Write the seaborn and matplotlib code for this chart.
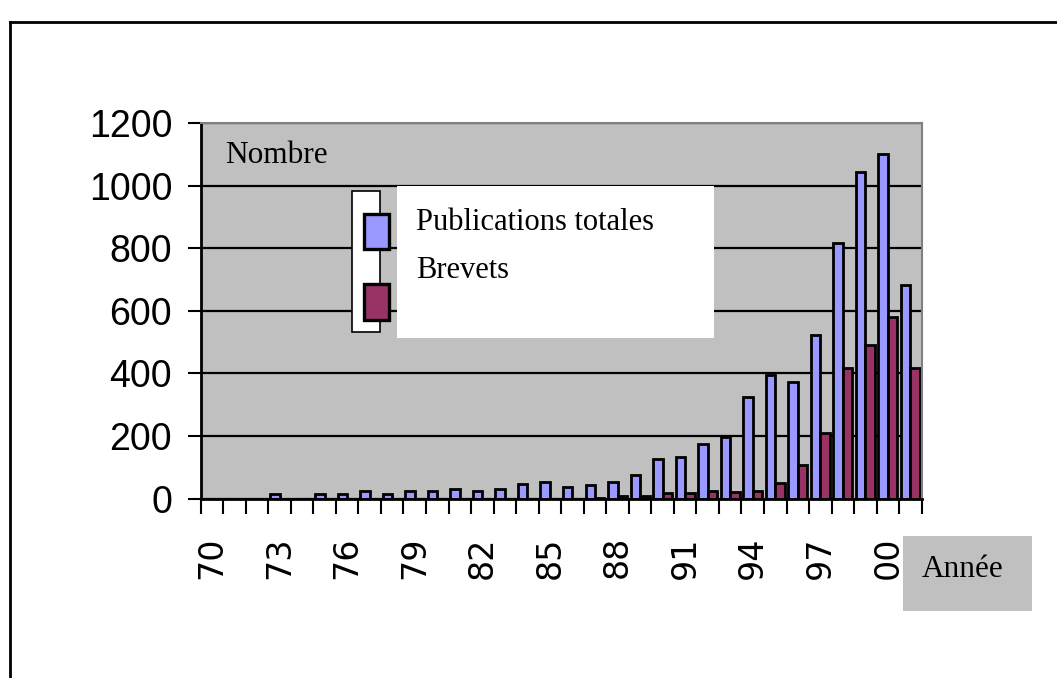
import matplotlib
matplotlib.use("Agg")
import matplotlib.pyplot as plt
from matplotlib.patches import Rectangle
from matplotlib.lines import Line2D
import numpy as np
import pandas as pd
import seaborn as sns

# ---- data -------------------------------------------------------------
years = list(range(1970, 2002))
publications = [0, 0, 0, 14, 0, 14, 14, 23, 14, 23, 23, 32, 23, 32, 48, 54,
                38, 45, 52, 76, 126, 134, 175, 196, 324, 395, 374, 523, 816,
                1042, 1100, 683]
brevets = [0, 0, 0, 0, 0, 0, 0, 0, 0, 0, 0, 0, 0, 0, 0, 0,
           0, 2, 10, 10, 17, 17, 26, 20, 26, 51, 108, 209, 417,
           491, 581, 417]
series_names = ["Publications totales", "Brevets"]
tick_years = [70, 73, 76, 79, 82, 85, 88, 91, 94, 97, 0]
y_ticks = [0, 200, 400, 600, 800, 1000, 1200]

colors = {"Publications totales": "#9999FF", "Brevets": "#993366"}
GRAY = "#C0C0C0"

df = pd.DataFrame({
    "annee": [str(y) for y in years] * 2,
    "serie": [series_names[0]] * len(years) + [series_names[1]] * len(years),
    "valeur": publications + brevets,
})

# ---- figure -----------------------------------------------------------
W, H = 1057, 678
fig = plt.figure(figsize=(W / 100, H / 100), dpi=100)
fig.patch.set_facecolor("white")


def fx(x):
    return x / W


def fy(y):
    return 1 - y / H


left, right, top, bottom = 200.7, 921.7, 123.0, 498.7
ax = fig.add_axes([fx(left), fy(bottom), fx(right) - fx(left), fy(top) - fy(bottom)])
ax.set_facecolor(GRAY)

sns.barplot(data=df, x="annee", y="valeur", hue="serie",
            order=[str(y) for y in years], hue_order=series_names,
            palette=colors, saturation=1, width=0.84,
            edgecolor="black", linewidth=2.0, legend=False, ax=ax,
            errorbar=None)

ax.set_xlim(-0.5, len(years) - 0.5)
ax.set_ylim(0, 1200)
ax.set_xlabel("")
ax.set_ylabel("")

# horizontal gridlines behind bars
ax.set_axisbelow(True)
ax.grid(axis="y", color="black", linewidth=1.6)
ax.grid(axis="x", visible=False)

# y axis
ax.set_yticks(y_ticks)
ax.set_yticklabels([str(v) for v in y_ticks], family="Liberation Sans",
                   fontsize=27)
ax.tick_params(axis="y", length=9.5, width=1.5, pad=11, colors="black")

# x axis: boundary ticks, labels every third year
label_pos = [years.index(1900 + y if y >= 70 else 2000 + y) for y in tick_years]
ax.set_xticks(label_pos)
ax.set_xticklabels([f"{y:02d}" for y in tick_years], rotation=90,
                   family="DejaVu Sans", fontsize=24)
ax.tick_params(axis="x", which="major", length=0, pad=27)
ax.set_xticks(np.arange(-0.5, len(years), 1.0), minor=True)
ax.tick_params(axis="x", which="minor", length=11, width=1.5, colors="black")

for s in ["left", "bottom"]:
    ax.spines[s].set_color("black")
    ax.spines[s].set_linewidth(2)
for s in ["top", "right"]:
    ax.spines[s].set_color("#808080")
    ax.spines[s].set_linewidth(1.5)

serif = "Liberation Serif"

# "Nombre" box in the top-left of the plot area
ax.add_patch(Rectangle((0.003, 1000), 0.229, 200, transform=ax.get_yaxis_transform(),
                       facecolor=GRAY, edgecolor="none", zorder=0.4))
fig.text(fx(225), fy(163.3), "Nombre", family=serif, fontsize=22.5,
         ha="left", va="baseline")

# legend frame with swatches
fig.add_artist(Rectangle((fx(351.7), fy(331.7)), fx(380) - fx(351.7), fy(190.7) - fy(331.7),
                         transform=fig.transFigure, facecolor="white",
                         edgecolor="black", linewidth=1.2, zorder=5))
fig.add_artist(Rectangle((fx(397.3), fy(337.7)), fx(714) - fx(397.3), fy(185.7) - fy(337.7),
                         transform=fig.transFigure, facecolor="white",
                         edgecolor="none", zorder=6))
for name, y0, y1 in [(series_names[0], 214, 249.3), (series_names[1], 284.3, 320)]:
    fig.add_artist(Rectangle((fx(364), fy(y1)), fx(389) - fx(364), fy(y0) - fy(y1),
                             transform=fig.transFigure, facecolor=colors[name],
                             edgecolor="black", linewidth=2.4, zorder=7))
fig.text(fx(416), fy(230), series_names[0], family=serif, fontsize=22,
         ha="left", va="baseline", zorder=8)
fig.text(fx(416), fy(278.3), series_names[1], family=serif, fontsize=22,
         ha="left", va="baseline", zorder=8)

# "Année" box
fig.add_artist(Rectangle((fx(902.7), fy(610.7)), fx(1031.7) - fx(902.7), fy(536) - fy(610.7),
                         transform=fig.transFigure, facecolor=GRAY,
                         edgecolor="none", zorder=5))
fig.text(fx(921.7), fy(576.7), "Année", family=serif, fontsize=22.5,
         ha="left", va="baseline", zorder=8)

# outer frame (top and left edges)
fig.add_artist(Line2D([fx(10), fx(10)], [fy(22), fy(H)], transform=fig.transFigure,
                      color="black", linewidth=2))
fig.add_artist(Line2D([fx(10), fx(W)], [fy(22), fy(22)], transform=fig.transFigure,
                      color="black", linewidth=2))

fig.savefig("out.png", dpi=100)
